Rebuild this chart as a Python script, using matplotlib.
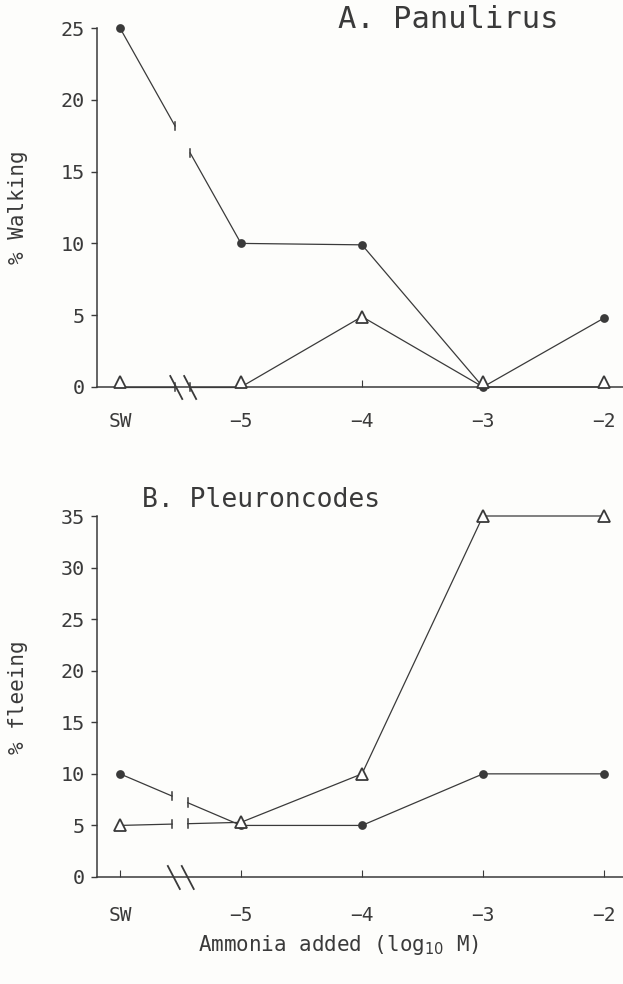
import matplotlib
matplotlib.use("Agg")
import matplotlib.pyplot as plt
from matplotlib import transforms
import numpy as np

# ---- data ----
x_labels = ["SW", "\u22125", "\u22124", "\u22123", "\u22122"]
a_walk_circle = [25, 10, 9.9, 0, 4.8]
a_walk_triangle = [0, 0, 4.9, 0, 0]
b_flee_circle = [10, 5, 5, 10, 10]
b_flee_triangle = [5, 5.3, 10, 35, 35]
a_yticks = [0, 5, 10, 15, 20, 25]
b_yticks = [0, 5, 10, 15, 20, 25, 30, 35]

FONT = "DejaVu Sans Mono"
C = "#3a3a3a"
plt.rcParams["font.family"] = [FONT]
plt.rcParams["mathtext.fontset"] = "dejavusans"

fig = plt.figure(figsize=(6.23, 9.84), dpi=100)
fig.patch.set_facecolor("#fdfdfb")

xs = np.arange(len(x_labels))
xlim = (-0.19, 4.157)


def style_axes(ax, ylim, yticks):
    ax.set_facecolor("none")
    ax.set_xlim(*xlim)
    ax.set_ylim(*ylim)
    for s in ("top", "right"):
        ax.spines[s].set_visible(False)
    for s in ("left", "bottom"):
        ax.spines[s].set_color(C)
        ax.spines[s].set_linewidth(1.1)
    ax.set_yticks(yticks)
    ax.set_xticks(xs)
    ax.set_xticklabels(x_labels)
    ax.tick_params(axis="y", direction="out", length=4, width=1, color=C,
                   labelsize=14.5, labelcolor=C, pad=5)
    ax.tick_params(axis="x", direction="in", length=5, width=0.8, color=C,
                   labelsize=14, labelcolor=C)
    for lab in ax.get_xticklabels() + ax.get_yticklabels():
        lab.set_family(FONT)


def broken_line(ax, ys, gap, marker, mfc, ms, lift_zero=False):
    x0, x1 = xs[0], xs[1]
    y0, y1 = ys[0], ys[1]
    g0, g1 = gap
    ya = y0 + (y1 - y0) * (g0 - x0) / (x1 - x0)
    yb = y0 + (y1 - y0) * (g1 - x0) / (x1 - x0)
    ax.plot([x0, g0], [y0, ya], color=C, lw=0.9, clip_on=False, zorder=2)
    ax.plot([g1, x1], [yb, y1], color=C, lw=0.9, clip_on=False, zorder=2)
    ax.plot(xs[1:], ys[1:], color=C, lw=0.9, clip_on=False, zorder=2)
    h = (ax.get_ylim()[1] - ax.get_ylim()[0]) * 0.012
    for gx, gy in ((g0, ya), (g1, yb)):
        ax.plot([gx, gx], [gy - h, gy + h], color=C, lw=1.1, clip_on=False, zorder=2)
    ys = np.asarray(ys, dtype=float)
    if lift_zero:
        zero = ys == 0
        lifted = transforms.offset_copy(ax.transData, fig=fig, x=0, y=5, units="dots")
        ax.plot(xs[zero], ys[zero], linestyle="none", marker=marker, mfc=mfc, mec=C,
                mew=1.3, ms=ms, clip_on=False, zorder=3, transform=lifted)
        ax.plot(xs[~zero], ys[~zero], linestyle="none", marker=marker, mfc=mfc, mec=C,
                mew=1.3, ms=ms, clip_on=False, zorder=3)
    else:
        ax.plot(xs, ys, linestyle="none", marker=marker, mfc=mfc, mec=C, mew=1.3,
                ms=ms, clip_on=False, zorder=3)


def axis_break(ax, xc):
    yr = ax.get_ylim()[1] - ax.get_ylim()[0]
    axh = ax.get_position().height * 984
    dy_up = 11 / axh * yr
    dy_dn = 12 / axh * yr
    dx = 12 / 121.0
    for off in (-0.055, 0.06):
        xa = xc + off - dx / 2
        ax.plot([xa, xa + dx], [dy_up, -dy_dn], color=C, lw=1.3, clip_on=False, zorder=4)


# ---- panel A ----
axA = fig.add_axes([97 / 623, 1 - 387 / 984, 526 / 623, (387 - 28) / 984])
style_axes(axA, (0, 25), a_yticks)
axA.tick_params(axis="x", pad=18)
broken_line(axA, a_walk_circle, (0.455, 0.58), "o", C, 5)
broken_line(axA, a_walk_triangle, (0.455, 0.58), "^", "white", 8, lift_zero=True)
axis_break(axA, 0.52)
fig.text(448 / 623, 1 - 19 / 984, "A. Panulirus", ha="center", va="center",
         fontsize=22, color=C, family=FONT)
fig.text(18 / 623, 1 - 207 / 984, "% Walking", rotation=90, ha="center", va="center",
         fontsize=15, color=C, family=FONT)

# ---- panel B ----
axB = fig.add_axes([97 / 623, 1 - 877 / 984, 526 / 623, (877 - 516) / 984])
style_axes(axB, (0, 35), b_yticks)
axB.tick_params(axis="x", pad=21)
broken_line(axB, b_flee_circle, (0.43, 0.56), "o", C, 5)
broken_line(axB, b_flee_triangle, (0.43, 0.56), "^", "white", 8)
axis_break(axB, 0.50)
fig.text(261 / 623, 1 - 500 / 984, "B. Pleuroncodes", ha="center", va="center",
         fontsize=19, color=C, family=FONT)
fig.text(18 / 623, 1 - 697 / 984, "% fleeing", rotation=90, ha="center", va="center",
         fontsize=15, color=C, family=FONT)

fig.text(338 / 623, 1 - 945 / 984, "Ammonia added (log$_{10}$ M)", ha="center", va="center",
         fontsize=15, color=C, family=FONT)

fig.savefig("out.png", dpi=100, facecolor=fig.get_facecolor())
